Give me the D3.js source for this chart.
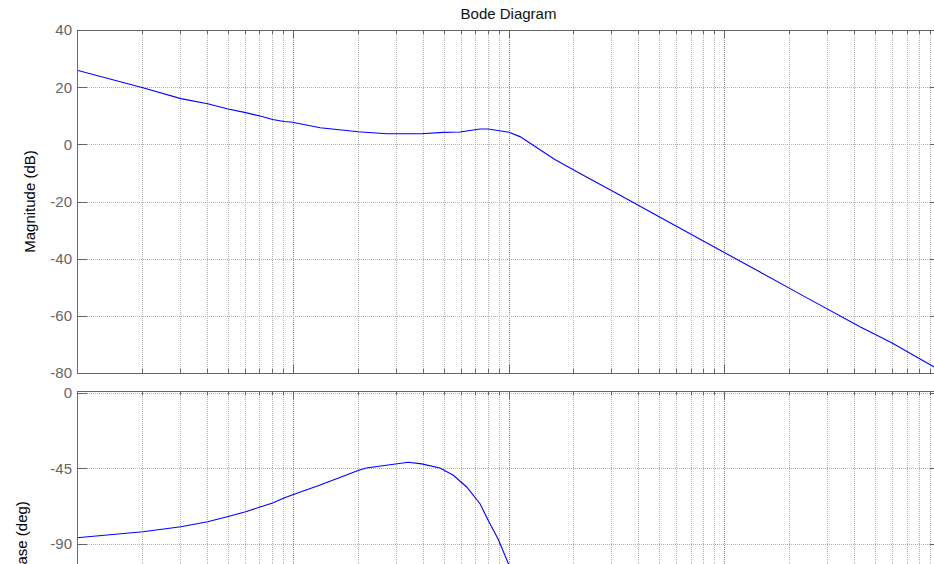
<!DOCTYPE html>
<html>
<head>
<meta charset="utf-8">
<script src="https://cdn.jsdelivr.net/npm/d3@7/dist/d3.min.js"></script>
<style>
  body { margin: 0; background: #fff; }
  svg { display: block; font-family: Arial, "Liberation Sans", sans-serif; }
</style>
</head>
<body>
<div id="bode"></div>
<script>
const magFreq = [1, 2.02, 3.03, 4.03, 5.01, 6.05, 7.05, 8.07, 9.11, 10, 10.8, 13.4, 20.1, 27.3, 39.6,
  49.9, 59.6, 73.8, 80.6, 100.5, 113, 164, 221, 329, 504, 773, 1465, 2246, 4256, 5970, 9090, 10000];
const magDb = [25.9, 19.8, 16.0, 14.2, 12.35, 11.1, 9.9, 8.7, 8.0, 7.7, 7.2, 5.8, 4.4, 3.7, 3.7,
  4.2, 4.3, 5.35, 5.35, 4.2, 2.7, -5.3, -10.7, -17.8, -25.5, -33.2, -44.7, -52.4, -63.8, -69.4, -77.3, -79.0];

const phaseFreq = [1, 2.02, 3.03, 4.03, 5.02, 6.05, 7.05, 8.07, 9.11, 10, 13.4, 20.1, 21.9, 34.3,
  39.6, 48.1, 55.5, 64.0, 73.8, 80.6, 89.7, 99.8, 113, 130];
const phaseDeg = [-86.6, -83, -80, -77, -73.8, -71, -68.2, -65.8, -62.8, -60.8, -55, -46.4, -44.8, -41.4,
  -42.4, -44.8, -49.2, -56.2, -66.2, -76.2, -87.6, -102, -120, -140];

const magTicks = [40, 20, 0, -20, -40, -60, -80];
const phaseTicks = [0, -45, -90];
const freqRange = [1, 10000];
const magRange = [-80, 40];
const phaseRange = [-180, 1.2];

// Taille du svg
const width = 934,
  height = 564;
const left = 77,
  right = 940;
const magBox = { top: 30, bottom: 373 };
const phBox = { top: 391, bottom: 694 };

const axisColor = "#666666";
const gridColor = "#b2b2b2";

var svg = d3
  .select("#bode")
  .append("svg")
  .attr("width", width)
  .attr("height", height);

let x = d3.scaleLog().domain(freqRange).range([left, right]);
let yMag = d3.scaleLinear().domain(magRange).range([magBox.bottom, magBox.top]);
let yPh = d3.scaleLinear().domain(phaseRange).range([phBox.bottom, phBox.top]);

let xTicks = x.ticks();
function isDecade(t) {
  let l = Math.log10(t);
  return Math.abs(l - Math.round(l)) < 1e-9;
}
function px(v) {
  return Math.round(v) + 0.5;
}

function drawPanel(box, y, ticks, freq, vals, id) {
  let g = svg.append("g");

  // grille verticale
  g.selectAll(".vgrid")
    .data(xTicks.filter((t) => t > freqRange[0] && t < freqRange[1]))
    .enter()
    .append("line")
    .attr("x1", (d) => px(x(d)))
    .attr("x2", (d) => px(x(d)))
    .attr("y1", box.top)
    .attr("y2", box.bottom)
    .attr("stroke", (d) => (isDecade(d) ? "#8c8c8c" : gridColor))
    .attr("stroke-dasharray", "1,1")
    .attr("shape-rendering", "crispEdges");

  // grille horizontale
  g.selectAll(".hgrid")
    .data(ticks)
    .enter()
    .append("line")
    .attr("x1", left)
    .attr("x2", right)
    .attr("y1", (d) => px(y(d)))
    .attr("y2", (d) => px(y(d)))
    .attr("stroke", gridColor)
    .attr("stroke-dasharray", "1,1")
    .attr("shape-rendering", "crispEdges");

  // courbe
  svg.append("clipPath")
    .attr("id", id)
    .append("rect")
    .attr("x", left)
    .attr("y", box.top)
    .attr("width", right - left)
    .attr("height", box.bottom - box.top);

  let line = d3
    .line()
    .x((d, i) => x(freq[i]))
    .y((d) => y(d));

  g.append("path")
    .attr("d", line(vals))
    .attr("clip-path", "url(#" + id + ")")
    .attr("fill", "none")
    .attr("stroke", "#0000ff")
    .attr("stroke-width", 1.1);

  // petites graduations en x (haut et bas)
  g.selectAll(".xtickTop")
    .data(xTicks)
    .enter()
    .append("line")
    .attr("x1", (d) => px(x(d)))
    .attr("x2", (d) => px(x(d)))
    .attr("y1", box.top)
    .attr("y2", (d) => box.top + (isDecade(d) ? 8 : 4))
    .attr("stroke", axisColor)
    .attr("shape-rendering", "crispEdges");

  g.selectAll(".xtickBottom")
    .data(xTicks)
    .enter()
    .append("line")
    .attr("x1", (d) => px(x(d)))
    .attr("x2", (d) => px(x(d)))
    .attr("y1", box.bottom)
    .attr("y2", (d) => box.bottom - (isDecade(d) ? 8 : 4))
    .attr("stroke", axisColor)
    .attr("shape-rendering", "crispEdges");

  // graduations en y
  g.selectAll(".ytick")
    .data(ticks)
    .enter()
    .append("path")
    .attr("d", (d) =>
      "M" + left + "," + px(y(d)) + "h10M" + right + "," + px(y(d)) + "h-10"
    )
    .attr("stroke", axisColor)
    .attr("shape-rendering", "crispEdges");

  g.selectAll(".ylabel")
    .data(ticks)
    .enter()
    .append("text")
    .attr("x", left - 5)
    .attr("y", (d) => y(d))
    .attr("dy", "0.36em")
    .attr("text-anchor", "end")
    .attr("font-size", 15)
    .attr("fill", axisColor)
    .text((d) => d);

  // cadre
  g.append("rect")
    .attr("x", left + 0.5)
    .attr("y", box.top + 0.5)
    .attr("width", right - left)
    .attr("height", box.bottom - box.top)
    .attr("fill", "none")
    .attr("stroke", axisColor)
    .attr("stroke-width", 1.2)
    .attr("shape-rendering", "crispEdges");
}

drawPanel(magBox, yMag, magTicks, magFreq, magDb, "clipMag");
drawPanel(phBox, yPh, phaseTicks, phaseFreq, phaseDeg, "clipPh");

// titres
svg.append("text")
  .attr("x", (left + right) / 2)
  .attr("y", 19)
  .attr("text-anchor", "middle")
  .attr("font-size", 15)
  .attr("fill", "#111")
  .text("Bode Diagram");

svg.append("text")
  .attr("transform", "translate(35," + (magBox.top + magBox.bottom) / 2 + ") rotate(-90)")
  .attr("text-anchor", "middle")
  .attr("font-size", 15)
  .attr("fill", "#000")
  .text("Magnitude (dB)");

svg.append("text")
  .attr("transform", "translate(27,542) rotate(-90)")
  .attr("text-anchor", "middle")
  .attr("font-size", 15)
  .attr("fill", "#000")
  .text("Phase (deg)");
</script>
</body>
</html>
